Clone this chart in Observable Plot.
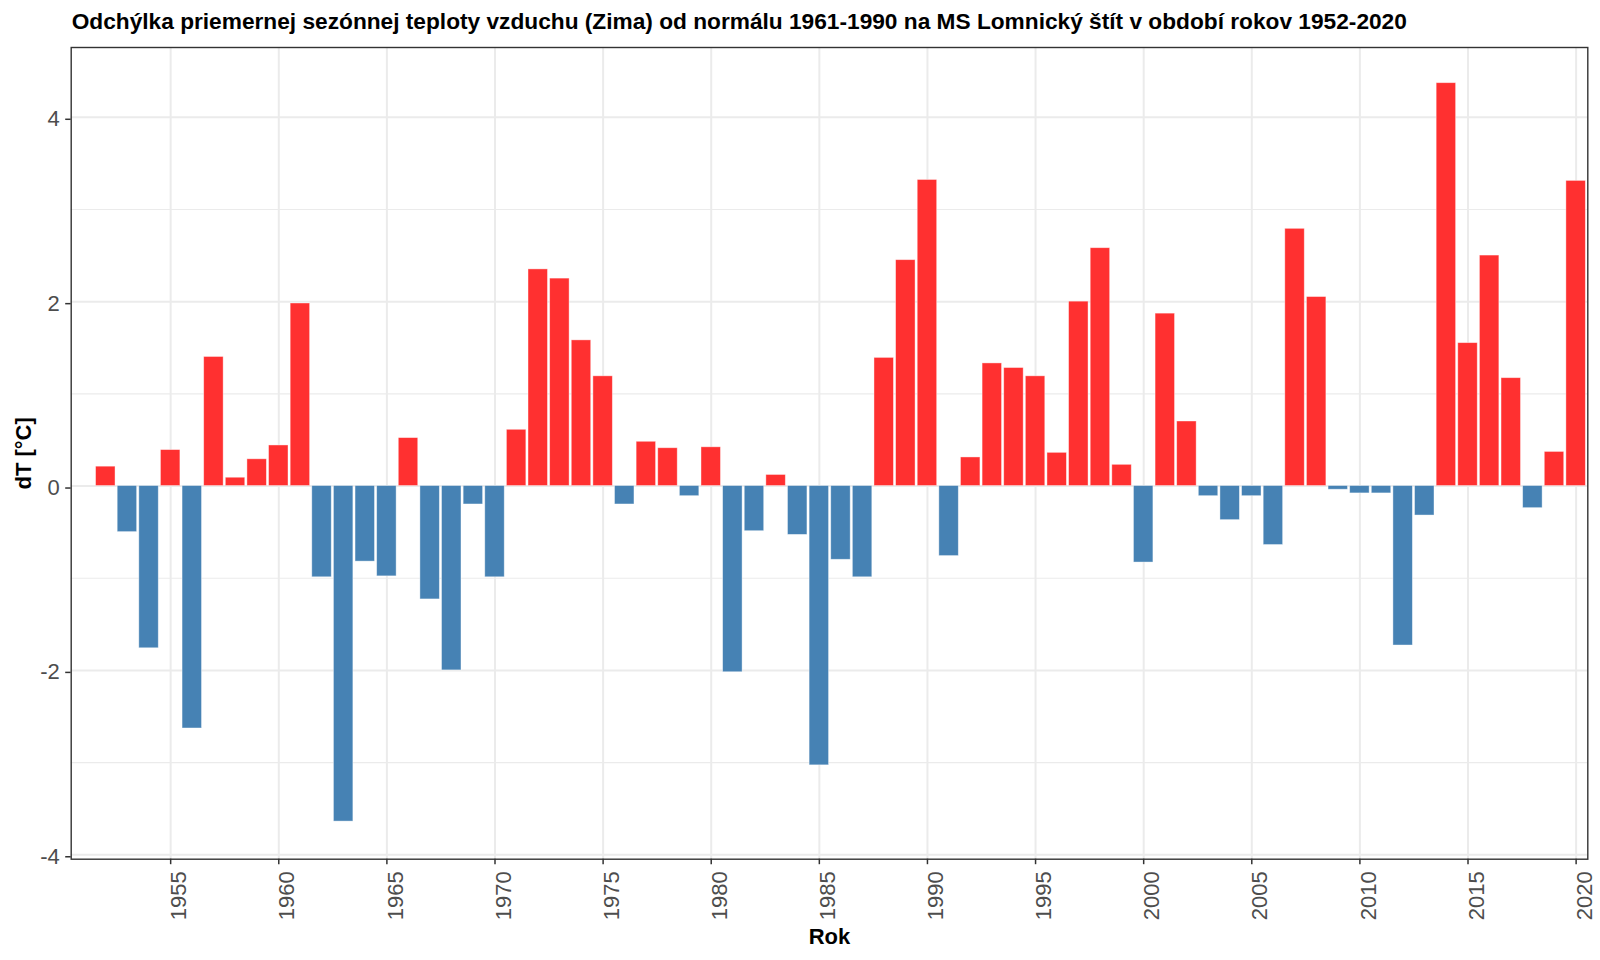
<!DOCTYPE html>
<html><head><meta charset="utf-8">
<script src="https://cdn.jsdelivr.net/npm/d3@7"></script>
<script src="https://cdn.jsdelivr.net/npm/@observablehq/plot@0.6"></script>
<style>
body{margin:0;background:#fff;}
#title{height:40px;box-sizing:border-box;padding-top:7.5px;padding-left:71.7px;line-height:30px;font:bold 22.7px 'Liberation Sans',Arial,sans-serif;color:#000;white-space:nowrap;}
</style></head><body>
<div id="title">Odchýlka priemernej sezónnej teploty vzduchu (Zima) od normálu 1961-1990 na MS Lomnický štít v období rokov 1952-2020</div>
<div id="chart"></div>
<script>
const years = [1952,1953,1954,1955,1956,1957,1958,1959,1960,1961,
  1962,1963,1964,1965,1966,1967,1968,1969,1970,1971,
  1972,1973,1974,1975,1976,1977,1978,1979,1980,1981,
  1982,1983,1984,1985,1986,1987,1988,1989,1990,1991,
  1992,1993,1994,1995,1996,1997,1998,1999,2000,2001,
  2002,2003,2004,2005,2006,2007,2008,2009,2010,2011,
  2012,2013,2014,2015,2016,2017,2018,2019,2020];
const values = [0.21,-0.50,-1.76,0.39,-2.63,1.40,0.09,0.29,0.44,1.98,
  -0.99,-3.64,-0.82,-0.98,0.52,-1.23,-2.00,-0.20,-0.99,0.61,
  2.35,2.25,1.58,1.19,-0.20,0.48,0.41,-0.11,0.42,-2.02,
  -0.49,0.12,-0.53,-3.03,-0.80,-0.99,1.39,2.45,3.32,-0.76,
  0.31,1.33,1.28,1.19,0.36,2.00,2.58,0.23,-0.83,1.87,
  0.70,-0.11,-0.37,-0.11,-0.64,2.79,2.05,-0.04,-0.08,-0.08,
  -1.73,-0.32,4.37,1.55,2.50,1.17,-0.24,0.37,3.31];
const xTicks = [1955,1960,1965,1970,1975,1980,1985,1990,1995,2000,2005,2010,2015,2020];
const yTicks = [-4,-2,0,2,4];
const yMinor = [-3,-1,1,3];
const xLabel = "Rok";
const yLabel = "dT [°C]";

const data = years.map((y, i) => ({year: y, value: values[i]}));
const font = "'Liberation Sans', Arial, sans-serif";

const chart = Plot.plot({
  width: 1600, height: 920,
  marginTop: 7, marginBottom: 101.3, marginLeft: 70.7, marginRight: 12.7,
  style: {fontFamily: font, background: "#fff", overflow: "visible"},
  x: {domain: [1950.4, 2020.54], label: null},
  y: {domain: [-4.048, 4.757], label: null},
  marks: [
    Plot.gridY(yMinor, {stroke: "#EBEBEB", strokeOpacity: 1, strokeWidth: 1.1}),
    Plot.gridY(yTicks, {stroke: "#EBEBEB", strokeOpacity: 1, strokeWidth: 2}),
    Plot.gridX(xTicks, {stroke: "#EBEBEB", strokeOpacity: 1, strokeWidth: 2}),
    Plot.rectY(data.filter(d => d.value >= 0), {x1: d => d.year - 0.45, x2: d => d.year + 0.45, y: "value", fill: "#FF3030", stroke: "#fff", strokeOpacity: 0.5, strokeWidth: 0.8}),
    Plot.rectY(data.filter(d => d.value < 0), {x1: d => d.year - 0.45, x2: d => d.year + 0.45, y: "value", fill: "#4682B4", stroke: "#fff", strokeOpacity: 0.5, strokeWidth: 0.8}),
    Plot.frame({stroke: "#333", strokeWidth: 1.4}),
    Plot.axisY(yTicks, {tickSize: 5.5, tickPadding: 6, tickFormat: d => String(d), fontSize: 22, fill: "#4D4D4D", stroke: "#333", strokeWidth: 1.5, dy: 2, label: null}),
    Plot.axisX(xTicks, {tickSize: 5.5, tickPadding: 6.5, tickFormat: d => String(d), tickRotate: -90, textAnchor: "end", lineAnchor: "top", fontSize: 22, fill: "#4D4D4D", stroke: "#333", strokeWidth: 1.5, label: null}),
    Plot.text([xLabel], {text: d => d, frameAnchor: "bottom", lineAnchor: "bottom", dy: 84.6, fontSize: 22, fontWeight: "bold", fill: "#000"}),
    Plot.text([yLabel], {text: d => d, frameAnchor: "left", textAnchor: "middle", rotate: -90, lineAnchor: "top", dx: -55.7, fontSize: 22, fontWeight: "bold", fill: "#000"})
  ]
});
document.getElementById("chart").append(chart);
</script>
</body></html>
